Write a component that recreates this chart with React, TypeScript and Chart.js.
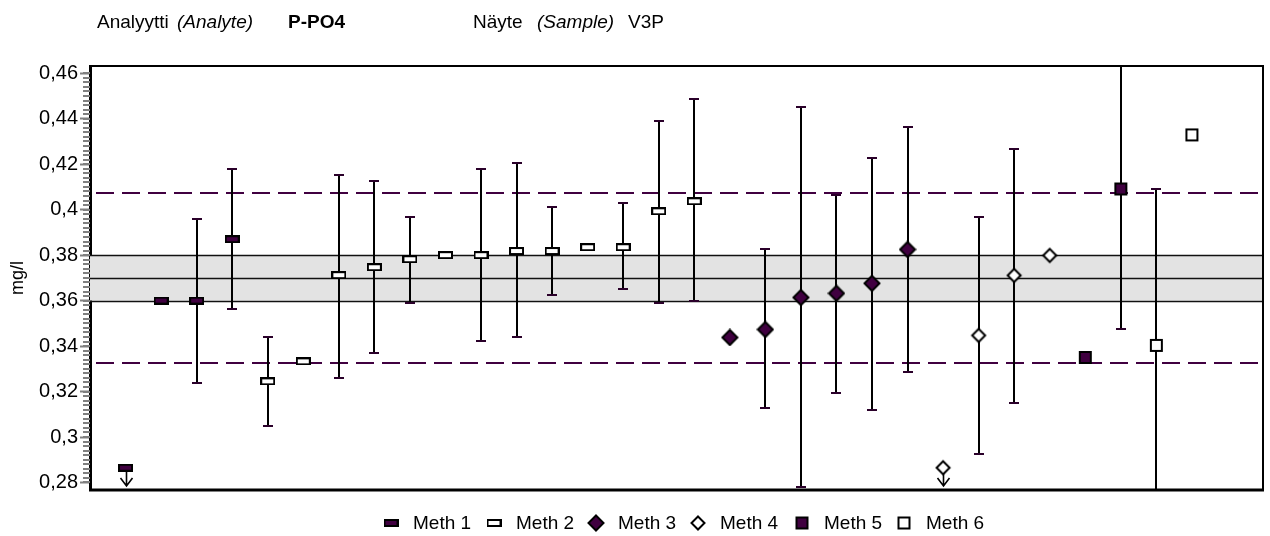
import React, { useEffect, useRef } from "react";
import { Chart, registerables } from "chart.js";
Chart.register(...registerables);

// ---------- data ----------
const positions = [1, 2, 3, 4, 5, 6, 7, 8, 9, 10, 11, 12, 13, 14, 15, 16, 17, 18, 19, 20, 21, 22, 23, 24, 25, 26, 27, 28, 29, 30, 31];
const methods = [1, 1, 1, 1, 2, 2, 2, 2, 2, 2, 2, 2, 2, 2, 2, 2, 2, 3, 3, 3, 3, 3, 3, 4, 4, 4, 4, 5, 5, 6, 6];
const values = [0.2865, 0.36, 0.36, 0.387, 0.3245, 0.3333, 0.3712, 0.3747, 0.3782, 0.38, 0.38, 0.3818, 0.3818, 0.3835, 0.3835, 0.3993, 0.4037, 0.3438, 0.3473, 0.3614, 0.3632, 0.3676, 0.3825, 0.2865, 0.3447, 0.3711, 0.3799, 0.335, 0.4091, 0.3403, 0.4329];
const lowErr: (number | null)[] = [null, null, 0.3236, 0.3563, 0.305, null, 0.3261, 0.3368, 0.3588, null, 0.3421, 0.3438, 0.3623, null, 0.3649, 0.3588, 0.3598, null, 0.3129, 0.2779, 0.3192, 0.312, 0.3287, null, 0.2927, 0.3148, null, null, 0.3473, 0.27, null];
const highErr: (number | null)[] = [null, null, 0.3958, 0.4178, 0.3438, null, 0.4152, 0.4125, 0.3967, null, 0.4178, 0.4204, 0.4011, null, 0.4029, 0.4389, 0.4487, null, 0.3825, 0.4451, 0.4064, 0.4229, 0.4363, null, 0.3967, 0.4266, null, null, 0.475, 0.409, null];
const belowRange = [true, false, false, false, false, false, false, false, false, false, false, false, false, false, false, false, false, false, false, false, false, false, false, true, false, false, false, false, false, false, false];
const methodNames = ["Meth 1", "Meth 2", "Meth 3", "Meth 4", "Meth 5", "Meth 6"];
const yTickValues = [0.28, 0.3, 0.32, 0.34, 0.36, 0.38, 0.4, 0.42, 0.44, 0.46];
const yTickLabels = ["0,28", "0,3", "0,32", "0,34", "0,36", "0,38", "0,4", "0,42", "0,44", "0,46"];
const yMin = 0.2767;
const yMax = 0.4632;
const minorStep = 0.002;
const bandLow = 0.36;
const bandMid = 0.37;
const bandHigh = 0.38;
const limitLow = 0.3325;
const limitHigh = 0.4073;

// ---------- styles ----------
const PURPLE = "#400040";
const FONT = "'Liberation Sans', Arial, sans-serif";

function makeMarker(kind: number): HTMLCanvasElement {
  const c = document.createElement("canvas");
  const ctx = c.getContext("2d")!;
  if (kind === 1 || kind === 2) {
    c.width = 15;
    c.height = 8;
    ctx.fillStyle = kind === 1 ? PURPLE : "#ffffff";
    ctx.strokeStyle = "#000";
    ctx.lineWidth = 2;
    ctx.fillRect(1, 1, 13, 6);
    ctx.strokeRect(1, 1, 13, 6);
  } else if (kind === 3 || kind === 4) {
    const h = kind === 3 ? 7.5 : 6.5;
    c.width = 18;
    c.height = 18;
    ctx.beginPath();
    ctx.moveTo(9, 9 - h);
    ctx.lineTo(9 + h, 9);
    ctx.lineTo(9, 9 + h);
    ctx.lineTo(9 - h, 9);
    ctx.closePath();
    ctx.fillStyle = kind === 3 ? PURPLE : "#ffffff";
    ctx.fill();
    ctx.strokeStyle = "#000";
    ctx.lineWidth = 2;
    ctx.stroke();
  } else {
    c.width = 15;
    c.height = 15;
    ctx.fillStyle = kind === 5 ? PURPLE : "#ffffff";
    ctx.strokeStyle = "#000";
    ctx.lineWidth = 2;
    ctx.fillRect(2, 2, 11, 11);
    ctx.strokeRect(2, 2, 11, 11);
  }
  return c;
}

export default function App() {
  const ref = useRef<HTMLCanvasElement | null>(null);

  useEffect(() => {
    if (!ref.current) return;
    const markers = [1, 2, 3, 4, 5, 6].map((k) => makeMarker(k));

    const datasets = methodNames.map((name, mi) => ({
      label: name,
      data: positions
        .map((p, i) => ({ x: p, y: values[i], m: methods[i] }))
        .filter((d) => d.m === mi + 1)
        .map((d) => ({ x: d.x, y: d.y })),
      pointStyle: markers[mi],
      pointRadius: 6,
      pointHoverRadius: 6,
      showLine: false,
    }));

    const decor = {
      id: "decor",
      beforeDatasetsDraw(chart: any) {
        const { ctx, chartArea: a, scales } = chart;
        const y = scales.y;
        const x = scales.x;
        ctx.save();
        ctx.beginPath();
        ctx.rect(a.left, a.top, a.right - a.left, a.bottom - a.top);
        ctx.clip();
        // band
        const yb1 = y.getPixelForValue(bandHigh);
        const yb2 = y.getPixelForValue(bandLow);
        ctx.fillStyle = "#e3e3e3";
        ctx.fillRect(a.left, yb1, a.right - a.left, yb2 - yb1);
        ctx.strokeStyle = "#111";
        ctx.lineWidth = 1.6;
        [bandLow, bandMid, bandHigh].forEach((v) => {
          const py = Math.round(y.getPixelForValue(v)) + 0.5;
          ctx.beginPath();
          ctx.moveTo(a.left, py);
          ctx.lineTo(a.right, py);
          ctx.stroke();
        });
        // limit lines
        ctx.strokeStyle = PURPLE;
        ctx.lineWidth = 2;
        ctx.setLineDash([18, 8]);
        [limitLow, limitHigh].forEach((v) => {
          const py = Math.round(y.getPixelForValue(v));
          ctx.beginPath();
          ctx.moveTo(a.left + 6, py);
          ctx.lineTo(a.right, py);
          ctx.stroke();
        });
        ctx.setLineDash([]);
        // error bars
        positions.forEach((p, i) => {
          const lo = lowErr[i];
          const hi = highErr[i];
          if (lo == null || hi == null) return;
          const px = Math.round(x.getPixelForValue(p));
          const plo = y.getPixelForValue(lo);
          const phi = y.getPixelForValue(hi);
          ctx.strokeStyle = "#000";
          ctx.lineWidth = 2;
          ctx.beginPath();
          ctx.moveTo(px, plo);
          ctx.lineTo(px, phi);
          ctx.stroke();
          ctx.strokeStyle = "#2a002a";
          [lo, hi].forEach((v) => {
            if (v < yMin || v > yMax) return;
            const py = Math.round(y.getPixelForValue(v));
            ctx.beginPath();
            ctx.moveTo(px - 5, py);
            ctx.lineTo(px + 5, py);
            ctx.stroke();
          });
        });
        // below-range arrows
        positions.forEach((p, i) => {
          if (!belowRange[i]) return;
          const px = Math.round(x.getPixelForValue(p)) + 0.5;
          const py = y.getPixelForValue(values[i]);
          const end = a.bottom - 4;
          ctx.strokeStyle = "#000";
          ctx.lineWidth = 1.6;
          ctx.beginPath();
          ctx.moveTo(px, py + 3);
          ctx.lineTo(px, end);
          ctx.moveTo(px - 6, end - 8);
          ctx.lineTo(px, end);
          ctx.lineTo(px + 6, end - 8);
          ctx.stroke();
        });
        ctx.restore();
      },
      afterDraw(chart: any) {
        const { ctx, chartArea: a, scales } = chart;
        const y = scales.y;
        ctx.save();
        // frame
        ctx.strokeStyle = "#000";
        ctx.lineWidth = 2;
        ctx.beginPath();
        ctx.moveTo(a.left, a.top);
        ctx.lineTo(a.right, a.top);
        ctx.lineTo(a.right, a.bottom);
        ctx.stroke();
        ctx.lineWidth = 3;
        ctx.beginPath();
        ctx.moveTo(a.left - 1, a.bottom);
        ctx.lineTo(a.right + 1, a.bottom);
        ctx.stroke();
        // minor ticks
        ctx.strokeStyle = "#808080";
        ctx.lineWidth = 2;
        for (let v = yTickValues[0]; v <= yTickValues[yTickValues.length - 1] + 1e-9; v += minorStep) {
          const py = Math.round(y.getPixelForValue(v));
          ctx.beginPath();
          ctx.moveTo(a.left - 7, py);
          ctx.lineTo(a.left, py);
          ctx.stroke();
        }
        // header
        ctx.fillStyle = "#000";
        ctx.textBaseline = "alphabetic";
        ctx.textAlign = "left";
        const hy = 28;
        ctx.font = `19px ${FONT}`;
        ctx.fillText("Analyytti", 97, hy);
        ctx.font = `italic 19px ${FONT}`;
        ctx.fillText("(Analyte)", 177, hy);
        ctx.font = `bold 19px ${FONT}`;
        ctx.fillText("P-PO4", 288, hy);
        ctx.font = `19px ${FONT}`;
        ctx.fillText("Näyte", 473, hy);
        ctx.font = `italic 19px ${FONT}`;
        ctx.fillText("(Sample)", 537, hy);
        ctx.font = `19px ${FONT}`;
        ctx.fillText("V3P", 628, hy);
        // legend
        const lx = [391, 494, 596, 698, 802, 904];
        const ly = 523;
        ctx.font = `19px ${FONT}`;
        ctx.textBaseline = "middle";
        methodNames.forEach((n, i) => {
          const m = markers[i];
          ctx.drawImage(m, lx[i] - m.width / 2, ly - m.height / 2);
          ctx.fillText(n, lx[i] + 22, ly + 1);
        });
        ctx.restore();
      },
    };

    const chart = new Chart(ref.current, {
      type: "scatter",
      data: { datasets: datasets as any },
      options: {
        animation: false,
        responsive: false,
        devicePixelRatio: 1,
        layout: { padding: { left: 0, top: 66, right: 7, bottom: 46 } },
        plugins: { legend: { display: false }, tooltip: { enabled: false }, title: { display: false } },
        scales: {
          x: { type: "linear", min: 0, max: 33, display: false },
          y: {
            type: "linear",
            min: yMin,
            max: yMax,
            afterBuildTicks: (s: any) => {
              s.ticks = yTickValues.map((v) => ({ value: v }));
            },
            afterFit: (s: any) => {
              s.width = 90;
            },
            ticks: {
              callback: (v: any) => {
                const i = yTickValues.findIndex((t) => Math.abs(t - Number(v)) < 1e-6);
                return i >= 0 ? yTickLabels[i] : "";
              },
              font: { family: FONT, size: 20 },
              color: "#000",
              padding: 2,
            },
            grid: { drawOnChartArea: false, tickLength: 10, tickColor: "#808080", tickWidth: 2 },
            border: { display: true, color: "#000", width: 3 },
            title: { display: true, text: "mg/l", font: { family: FONT, size: 18 }, color: "#000", padding: { top: 7, bottom: 0 } },
          },
        },
      } as any,
      plugins: [decor],
    });
    return () => chart.destroy();
  }, []);

  return (
    <div style={{ position: "fixed", left: 0, top: 0, width: 1270, height: 536, background: "#fff" }}>
      <canvas ref={ref} width={1270} height={536} style={{ width: 1270, height: 536, display: "block" }} />
    </div>
  );
}
